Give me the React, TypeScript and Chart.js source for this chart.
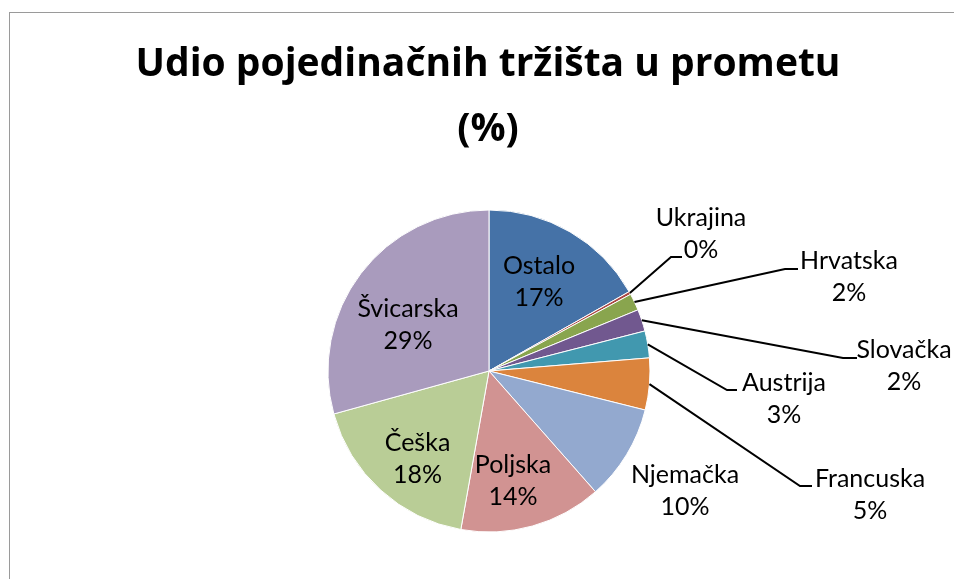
import React, { useEffect, useRef } from "react";
import { Chart, registerables } from "chart.js";

Chart.register(...registerables);

const categories = ["Ostalo", "Ukrajina", "Hrvatska", "Slovačka", "Austrija", "Francuska", "Njemačka", "Poljska", "Češka", "Švicarska"];
const shares = [16.8, 0.3, 1.7, 2.2, 2.7, 5.2, 9.6, 14.3, 17.9, 29.3];
const sliceColors = ["#4572A7", "#AA4643", "#89A54E", "#71588F", "#4198AF", "#DB843D", "#93A9CF", "#D19392", "#B9CD96", "#A99BBD"];
const titleLines = ["Udio pojedinačnih tržišta u prometu", "(%)"];

// label layout: offsets from pie centre (first-line baseline), optional leader elbow/end offsets
const labelLayout: { dx: number; dy: number; leader?: [number, number][] }[] = [
  { dx: 50, dy: -97 },
  { dx: 212, dy: -145, leader: [[182, -114], [193, -114]] },
  { dx: 360, dy: -102, leader: [[296, -102], [309, -102]] },
  { dx: 415, dy: -13, leader: [[354, -13], [368, -13]] },
  { dx: 295, dy: 19.5, leader: [[238, 19], [248, 19]] },
  { dx: 381, dy: 116, leader: [[311, 115], [323, 115]] },
  { dx: 196, dy: 112 },
  { dx: 24, dy: 102 },
  { dx: -71.5, dy: 80 },
  { dx: -81, dy: -54 },
];

const FONT = "Lato, 'Open Sans', sans-serif";
const TITLE_FONT = "'Open Sans', Lato, sans-serif";

const labelsPlugin = {
  id: "excelLabels",
  beforeDraw(chart: any) {
    const ctx = chart.ctx;
    ctx.save();
    ctx.fillStyle = "#ffffff";
    ctx.fillRect(0, 0, chart.width, chart.height);
    ctx.strokeStyle = "#9a9a9a";
    ctx.lineWidth = 1;
    ctx.strokeRect(9.5, 12.5, 2000, 2000);
    ctx.fillStyle = "#000";
    ctx.font = `bold 39px ${TITLE_FONT}`;
    ctx.textAlign = "center";
    ctx.textBaseline = "alphabetic";
    ctx.fillText(titleLines[0], 488, 76);
    ctx.fillText(titleLines[1], 488, 141);
    ctx.restore();
  },
  afterDatasetsDraw(chart: any) {
    const ctx = chart.ctx;
    const meta = chart.getDatasetMeta(0);
    const data = chart.data.datasets[0].data as number[];
    const total = data.reduce((a, b) => a + b, 0);
    ctx.save();
    meta.data.forEach((arc: any, i: number) => {
      const cx = arc.x, cy = arc.y, r = arc.outerRadius;
      const mid = (arc.startAngle + arc.endAngle) / 2;
      const lay = labelLayout[i];
      if (lay.leader) {
        ctx.beginPath();
        ctx.strokeStyle = "#000";
        ctx.lineWidth = 2;
        ctx.moveTo(cx + r * Math.cos(mid), cy + r * Math.sin(mid));
        lay.leader.forEach(([lx, ly]) => ctx.lineTo(cx + lx, cy + ly));
        ctx.stroke();
      }
      ctx.fillStyle = "#000";
      ctx.font = `25px ${FONT}`;
      ctx.textAlign = "center";
      ctx.textBaseline = "alphabetic";
      const pct = Math.round((data[i] / total) * 100) + "%";
      ctx.fillText(chart.data.labels[i], cx + lay.dx, cy + lay.dy);
      ctx.fillText(pct, cx + lay.dx, cy + lay.dy + 32);
    });
    ctx.restore();
  },
};

export default function App() {
  const ref = useRef<HTMLCanvasElement>(null);
  useEffect(() => {
    if (!ref.current) return;
    const chart = new Chart(ref.current, {
      type: "pie",
      data: {
        labels: categories,
        datasets: [
          {
            data: shares,
            backgroundColor: sliceColors,
            borderColor: "#ffffff",
            borderWidth: 1,
          },
        ],
      },
      options: {
        responsive: false,
        animation: false,
        radius: 161,
        layout: { padding: { left: 150, right: 126, top: 190, bottom: 27 } },
        plugins: {
          legend: { display: false },
          tooltip: { enabled: false },
          title: { display: false },
        },
      } as any,
      plugins: [labelsPlugin],
    });
    return () => chart.destroy();
  }, []);
  return (
    <canvas
      ref={ref}
      width={954}
      height={579}
      style={{ position: "fixed", left: 0, top: 0, width: 954, height: 579 }}
    />
  );
}
